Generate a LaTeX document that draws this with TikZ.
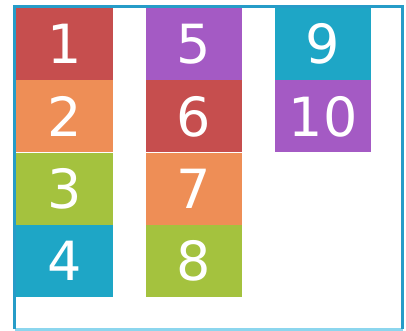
\documentclass[tikz,border=0pt]{standalone}
\usepackage{fontspec}
\setmainfont{DejaVu Sans}
\usetikzlibrary{positioning}
\definecolor{RedBox}{RGB}{198,78,78}
\definecolor{OrangeBox}{RGB}{238,142,86}
\definecolor{GreenBox}{RGB}{164,194,62}
\definecolor{BlueBox}{RGB}{30,166,198}
\definecolor{PurpleBox}{RGB}{164,90,196}
\definecolor{FrameColor}{RGB}{38,156,200}
\definecolor{FrameLight}{RGB}{140,214,238}
\tikzset{cell/.style={minimum width=96.5pt, minimum height=72pt, inner sep=0pt, text=white, font=\fontsize{54}{54}\selectfont}}
\begin{document}
\begin{tikzpicture}[x=1pt, y=-1pt]
          \useasboundingbox (0,0) rectangle (406,331);
          % container
          \fill[white] (13,5) rectangle (404,331);
          \draw[FrameLight, line width=2.5pt] (14.5,329.5) -- (402.5,329.5);
          \draw[FrameColor, line width=3pt] (14.5,329) -- (14.5,6.5) -- (402.5,6.5) -- (402.5,329);
          % first column
          \node[cell, fill=RedBox] (n1) at (64.25,44) {1};
          \node[cell, fill=OrangeBox, below=0pt of n1] (n2) {2};
          \node[cell, fill=GreenBox, below=0pt of n2] (n3) {3};
          \node[cell, fill=BlueBox, below=0pt of n3] (n4) {4};
          % second column
          \node[cell, fill=PurpleBox, right=33pt of n1] (n5) {5};
          \node[cell, fill=RedBox, below=0pt of n5] (n6) {6};
          \node[cell, fill=OrangeBox, below=0pt of n6] (n7) {7};
          \node[cell, fill=GreenBox, below=0pt of n7] (n8) {8};
          % third column
          \node[cell, fill=BlueBox, right=32pt of n5] (n9) {9};
          \node[cell, fill=PurpleBox, below=0pt of n9] (n10) {10};
        \end{tikzpicture}
\end{document}
